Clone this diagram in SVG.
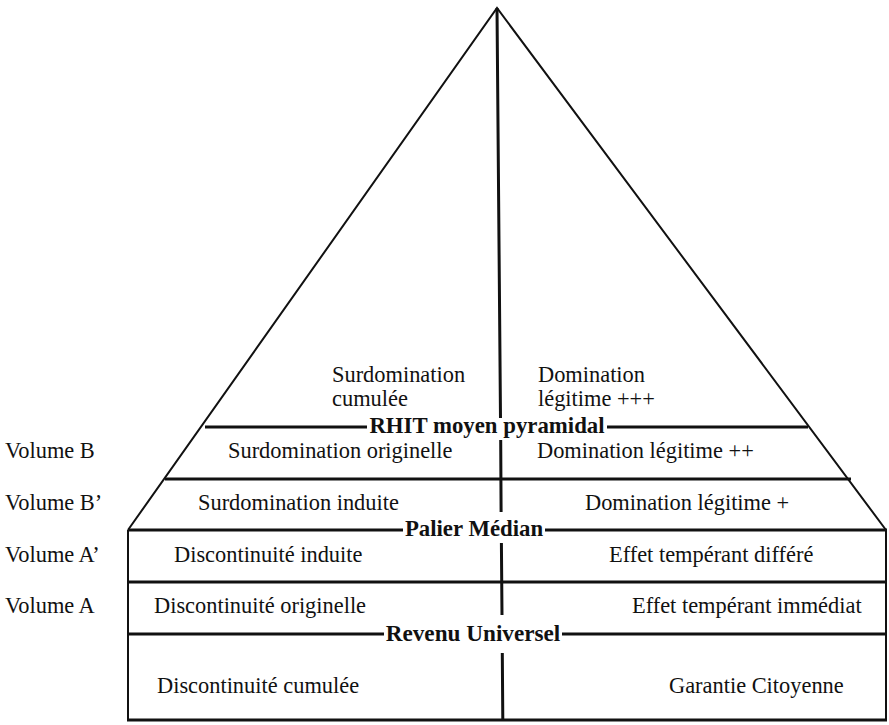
<svg xmlns="http://www.w3.org/2000/svg" width="889" height="725" viewBox="0 0 889 725">
<style>
text{font-family:"Liberation Serif","Times New Roman",serif;font-size:22.4px;fill:#111}
.b{font-weight:bold;font-size:22.8px}
.h{stroke:#111;stroke-width:3;fill:none}
.e{stroke:#111;stroke-width:2;fill:none}
.v{stroke:#111;stroke-width:3;fill:none}
</style>
<rect width="889" height="725" fill="#fff"/>
<g id="connectors">
<path class="e" d="M128,530 L497,8 L886,530"/>
<path class="e" d="M128,530 V720 M886,530 V720"/>
<path class="h" d="M205,427 H367 M607,427 H808"/>
<path class="h" d="M165,479 H851"/>
<path class="h" d="M128,530 H403 M545,530 H887"/>
<path class="h" d="M128,582 H887"/>
<path class="h" d="M128,634 H384 M562,634 H887"/>
<path class="h" d="M127,720 H887"/>
<path class="v" d="M497,8 L500.5,418 M500.7,440 L501.1,512 M501.4,543 L502,615 M502.3,653 L502.8,720"/>
</g>
<g id="labels">
<text x="5" y="458">Volume B</text>
<text x="5" y="510">Volume B’</text>
<text x="5" y="562">Volume A’</text>
<text x="5" y="613">Volume A</text>
</g>
<g id="top">
<text x="332" y="382">Surdomination</text>
<text x="332" y="406">cumulée</text>
<text x="538" y="382">Domination</text>
<text x="538" y="406">légitime +++</text>
</g>
<g id="rhit"><text class="b" x="487" y="433" text-anchor="middle">RHIT moyen pyramidal</text></g>
<g id="rowB">
<text x="228" y="458">Surdomination originelle</text>
<text x="537" y="458">Domination légitime ++</text>
</g>
<g id="rowBp">
<text x="198" y="510">Surdomination induite</text>
<text x="585" y="510">Domination légitime +</text>
</g>
<g id="palier"><text class="b" x="474" y="536" text-anchor="middle">Palier Médian</text></g>
<g id="rowAp">
<text x="174" y="562">Discontinuité induite</text>
<text x="609" y="562">Effet tempérant différé</text>
</g>
<g id="rowA">
<text x="154" y="613">Discontinuité originelle</text>
<text x="632" y="613">Effet tempérant immédiat</text>
</g>
<g id="ru"><text class="b" x="473" y="641" text-anchor="middle" style="font-size:23.2px">Revenu Universel</text></g>
<g id="rowC">
<text x="157" y="693">Discontinuité cumulée</text>
<text x="669" y="693">Garantie Citoyenne</text>
</g>
</svg>
